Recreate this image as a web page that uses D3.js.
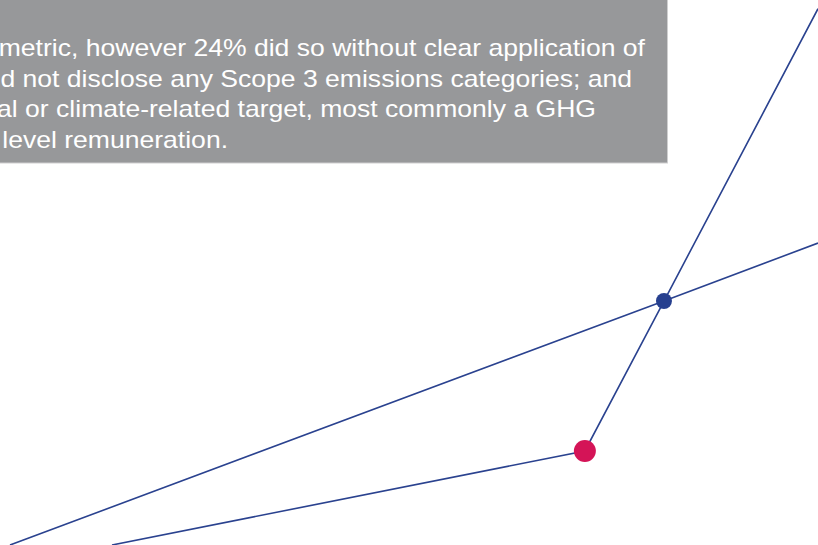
<!DOCTYPE html>
<html>
<head>
<meta charset="utf-8">
<script src="https://cdn.jsdelivr.net/npm/d3@7"></script>
<style>
  html, body { margin: 0; padding: 0; background: #ffffff; }
  svg { display: block; }
</style>
</head>
<body>
<svg id="chart" width="818" height="545"></svg>
<script>
// ---- data ----
const textLines = [
  "metric, however 24% did so without clear application of",
  "d not disclose any Scope 3 emissions categories; and",
  "al or climate-related target, most commonly a GHG",
  " level remuneration."
];
const textLineEnds = [645, 632, 596, 228];   // right edge of each visible line (px)

// straight trend line (x, y in chart units)
const lineA = [
  { x: 1.22, y: 0 },
  { x: 81.17, y: 44.77 },
  { x: 100, y: 55.4 }
];
// bent line through the two highlighted points
const lineB = [
  { x: 13.69, y: 0 },
  { x: 71.5, y: 17.25 },
  { x: 81.17, y: 44.77 },
  { x: 100, y: 98.4 }
];
const points = [
  { name: "highlight", x: 71.5, y: 17.25 },
  { name: "crossing", x: 81.17, y: 44.77 }
];

// ---- drawing ----
const W = 818, H = 545;
const svg = d3.select("#chart");
const x = d3.scaleLinear().domain([0, 100]).range([0, W]);
const y = d3.scaleLinear().domain([0, 100]).range([H, 0]);

const navy = "#2a428f";
const pointColor = d3.scaleOrdinal()
  .domain(["highlight", "crossing"])
  .range(["#d41457", "#27408f"]);
const pointR = d3.scaleOrdinal()
  .domain(["highlight", "crossing"])
  .range([11, 8]);

// grey text box
svg.append("rect")
  .attr("x", -2).attr("y", -2)
  .attr("width", 669.5).attr("height", 165)
  .attr("fill", "#97989a")
  .attr("stroke", "#cfcfd0")
  .attr("stroke-width", 1);

const sx = 1.155;
const tg = svg.append("g").attr("transform", `scale(${sx},1)`);
tg.selectAll("text")
  .data(textLines)
  .join("text")
  .attr("x", (d, i) => textLineEnds[i] / sx)
  .attr("y", (d, i) => 56.5 + i * 30.5)
  .attr("text-anchor", "end")
  .attr("fill", "#ffffff")
  .style("font-family", "'Liberation Sans', Arial, sans-serif")
  .style("font-size", "23px")
  .style("white-space", "pre")
  .text(d => d);

// lines
const line = d3.line().x(d => x(d.x)).y(d => y(d.y));
svg.append("path")
  .datum(lineA)
  .attr("d", line)
  .attr("fill", "none")
  .attr("stroke", navy)
  .attr("stroke-width", 1.6);
svg.append("path")
  .datum(lineB)
  .attr("d", line)
  .attr("fill", "none")
  .attr("stroke", navy)
  .attr("stroke-width", 1.6);

// points
svg.selectAll("circle.pt")
  .data(points)
  .join("circle")
  .attr("class", "pt")
  .attr("cx", d => x(d.x))
  .attr("cy", d => y(d.y))
  .attr("r", d => pointR(d.name))
  .attr("fill", d => pointColor(d.name));
</script>
</body>
</html>
